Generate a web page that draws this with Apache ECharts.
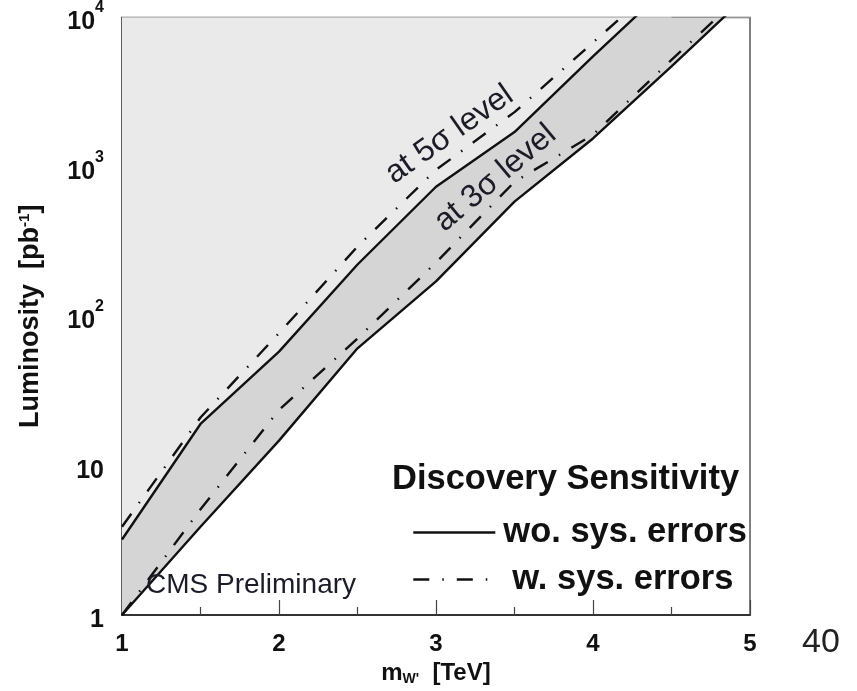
<!DOCTYPE html>
<html>
<head>
<meta charset="utf-8">
<title>Discovery Sensitivity</title>
<script src="https://cdn.jsdelivr.net/npm/echarts@6/dist/echarts.min.js"></script>
<style>
  html, body { margin: 0; padding: 0; background: #fff; }
  #chart { width: 857px; height: 691px; }
</style>
</head>
<body>
<div id="chart"></div>
<script>
// W' mass points [TeV]
const massTeV = [1, 1.5, 2, 2.5, 3, 3.5, 4, 4.5, 5];

// luminosity [pb^-1] needed (values past 10^4 run out of the frame)
const lumi5SigmaNoSys = [3.2, 19, 58, 222, 736, 1711, 5500, 17000, null];
const lumi5SigmaSys   = [3.9, 21, 77, 293, 955, 2325, 6800, 20000, null];
const lumi3SigmaNoSys = [1, 3.9, 14.7, 61, 171, 585, 1550, 4700, 14700];
const lumi3SigmaSys   = [1, 5.1, 23.6, 71, 229, 794, 1640, 5200, 16000];

const xTicks = [1, 2, 3, 4, 5];
const yTicks = [1, 10, 100, 1000, 10000];

const FONT = "'Liberation Sans', Arial, Helvetica, sans-serif";
const DASH_DOT = [16, 13, 1.5, 13];

const pairs = (ys) => massTeV.map((x, i) => [x, ys[i]]);

const chart = echarts.init(document.getElementById('chart'), null, { renderer: 'canvas' });

chart.setOption({
    backgroundColor: '#fff',
    animation: false,
    title: {
        text: 'Discovery Sensitivity',
        left: 392, top: 462, padding: 0,
        textStyle: { fontFamily: FONT, fontSize: 34.5, fontWeight: 'bold', color: '#111' }
    },
    legend: {
        orient: 'vertical',
        left: 412, top: 515,
        padding: 0,
        itemWidth: 82, itemHeight: 14, itemGap: 12,
        itemStyle: { opacity: 0 },
        lineStyle: { width: 2.6 },
        data: [
            { name: 'wo. sys. errors', textStyle: { padding: [0, 0, 0, 3] } },
            { name: 'w. sys. errors', textStyle: { padding: [0, 0, 0, 12] } }
        ],
        textStyle: { fontFamily: FONT, fontSize: 34.5, fontWeight: 'bold', color: '#111', lineHeight: 35 }
    },
    grid: {
        left: 122, right: 107, top: 15, bottom: 76,
        show: true, backgroundColor: '#fff', borderColor: '#555', borderWidth: 1.5
    },
    xAxis: {
        type: 'value',
        min: xTicks[0], max: xTicks[xTicks.length - 1], interval: 1,
        name: "m{sub|W'}  [TeV]",
        nameLocation: 'middle', nameGap: 40,
        nameTextStyle: {
            fontFamily: FONT, fontSize: 24, fontWeight: 'bold', color: '#111',
            rich: {
                sub: { fontFamily: FONT, fontSize: 14, fontWeight: 'bold', color: '#111', verticalAlign: 'bottom', padding: [12, 0, 0, 0] }
            }
        },
        axisLine: { show: true, lineStyle: { color: '#333', width: 2 } },
        axisTick: { show: true, inside: true, length: 15, lineStyle: { color: '#444', width: 1.2 } },
        minorTick: { show: true, splitNumber: 2, length: 8, lineStyle: { color: '#444', width: 1.2 } },
        splitLine: { show: false },
        axisLabel: {
            margin: 17, fontFamily: FONT, fontSize: 24, fontWeight: 'bold', color: '#111',
            formatter: v => xTicks.includes(v) ? String(v) : ''
        }
    },
    yAxis: {
        type: 'log', logBase: 10,
        min: yTicks[0], max: yTicks[yTicks.length - 1], splitNumber: 4,
        name: '{b|Luminosity  [pb}{sup|-1}{b|]}',
        nameLocation: 'middle', nameGap: 78, nameRotate: 90,
        nameTextStyle: {
            rich: {
                b: { fontFamily: FONT, fontSize: 27, fontWeight: 'bold', color: '#111' },
                sup: { fontFamily: FONT, fontSize: 15, fontWeight: 'bold', color: '#111', verticalAlign: 'top' }
            }
        },
        axisLine: { show: true, lineStyle: { color: '#555', width: 1.5 } },
        axisTick: { show: false },
        splitLine: { show: false },
        axisLabel: {
            margin: 18,
            formatter: v => {
                const p = Math.round(Math.log10(v));
                if (p === 0) return '{b|1}';
                if (p === 1) return '{b|10}';
                return '{b|10}{sup|' + p + '}';
            },
            rich: {
                b: { fontFamily: FONT, fontSize: 25, fontWeight: 'bold', color: '#111', padding: [10, 0, 0, 0] },
                sup: { fontFamily: FONT, fontSize: 16, fontWeight: 'bold', color: '#111', verticalAlign: 'top' }
            }
        }
    },
    series: [
        {
            name: 'wo. sys. errors', type: 'line', symbol: 'none', data: pairs(lumi3SigmaNoSys),
            itemStyle: { color: '#111' },
            lineStyle: { color: '#111', width: 2.4 },
            areaStyle: { origin: 'end', color: '#d5d5d5', opacity: 1 }
        },
        {
            name: 'wo. sys. errors', type: 'line', symbol: 'none', data: pairs(lumi5SigmaNoSys),
            itemStyle: { color: '#111' },
            lineStyle: { color: '#111', width: 2.4 },
            areaStyle: { origin: 'end', color: '#eaeaea', opacity: 1 }
        },
        {
            name: 'w. sys. errors', type: 'line', symbol: 'none', data: pairs(lumi5SigmaSys),
            itemStyle: { color: '#111' },
            lineStyle: { color: '#111', width: 2.4, type: DASH_DOT }
        },
        {
            name: 'w. sys. errors', type: 'line', symbol: 'none', data: pairs(lumi3SigmaSys),
            itemStyle: { color: '#111' },
            lineStyle: { color: '#111', width: 2.4, type: DASH_DOT }
        }
    ],
    graphic: [
        {
            type: 'text', x: 398, y: 190, rotation: 35 * Math.PI / 180, z: 10,
            style: { text: 'at 5σ level', font: "32px " + FONT, fill: '#1c1c28', align: 'left', verticalAlign: 'bottom' }
        },
        {
            type: 'text', x: 449, y: 238, rotation: 40 * Math.PI / 180, z: 10,
            style: { text: 'at 3σ level', font: "32px " + FONT, fill: '#1c1c28', align: 'left', verticalAlign: 'bottom' }
        },
        {
            type: 'text', x: 146, y: 585, z: 10,
            style: { text: 'CMS Preliminary', font: "28px " + FONT, fill: '#1c1c28', align: 'left', verticalAlign: 'middle' }
        },
        {
            type: 'text', x: 802, y: 643, z: 10,
            style: { text: '40', font: "34px " + FONT, fill: '#222', align: 'left', verticalAlign: 'middle' }
        }
    ]
});
</script>
</body>
</html>
